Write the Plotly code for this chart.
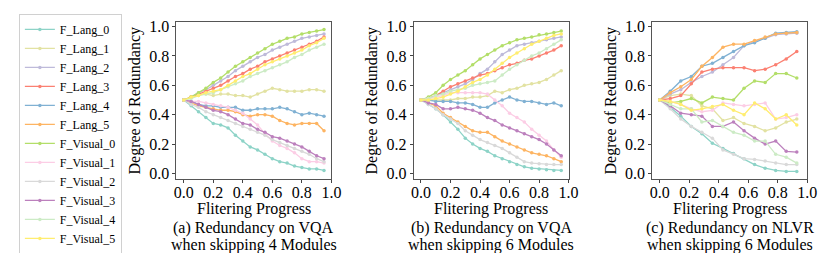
import plotly.graph_objects as go

W, H = 830, 253

series_names = ["F_Lang_0", "F_Lang_1", "F_Lang_2", "F_Lang_3", "F_Lang_4", "F_Lang_5",
                "F_Visual_0", "F_Visual_1", "F_Visual_2", "F_Visual_3", "F_Visual_4", "F_Visual_5"]
colors = ["#8dd3c7", "#e2e2a2", "#bebada", "#fb8072", "#80b1d3", "#fdb462",
          "#b3de69", "#fccde5", "#d9d9d9", "#bc80bd", "#ccebc5", "#ffed6f"]

x_ab = [i * 0.05 for i in range(20)]
x_c = [i / 14 for i in range(14)]

# (a) VQA, skipping 4 modules
a_lang_0 = [0.50, 0.46, 0.42, 0.38, 0.34, 0.33, 0.31, 0.26, 0.22, 0.18, 0.16, 0.13, 0.10, 0.08, 0.07, 0.05, 0.04, 0.03, 0.03, 0.02]
a_lang_1 = [0.50, 0.52, 0.54, 0.54, 0.53, 0.54, 0.54, 0.53, 0.53, 0.52, 0.54, 0.56, 0.58, 0.57, 0.56, 0.56, 0.56, 0.57, 0.57, 0.56]
a_lang_2 = [0.50, 0.52, 0.55, 0.57, 0.60, 0.63, 0.66, 0.70, 0.73, 0.76, 0.79, 0.81, 0.84, 0.86, 0.88, 0.90, 0.92, 0.93, 0.94, 0.95]
a_lang_3 = [0.50, 0.52, 0.54, 0.56, 0.58, 0.60, 0.63, 0.66, 0.68, 0.71, 0.73, 0.76, 0.78, 0.80, 0.82, 0.84, 0.86, 0.88, 0.90, 0.93]
a_lang_4 = [0.50, 0.49, 0.47, 0.46, 0.46, 0.45, 0.45, 0.45, 0.43, 0.43, 0.44, 0.44, 0.44, 0.45, 0.44, 0.42, 0.40, 0.41, 0.40, 0.39]
a_lang_5 = [0.50, 0.48, 0.46, 0.45, 0.44, 0.43, 0.43, 0.42, 0.40, 0.39, 0.40, 0.40, 0.39, 0.36, 0.34, 0.33, 0.34, 0.34, 0.34, 0.29]
a_vis_0 = [0.50, 0.52, 0.55, 0.58, 0.62, 0.65, 0.69, 0.73, 0.76, 0.79, 0.82, 0.85, 0.88, 0.90, 0.92, 0.93, 0.95, 0.96, 0.97, 0.98]
a_vis_1 = [0.50, 0.49, 0.49, 0.48, 0.47, 0.46, 0.45, 0.43, 0.41, 0.37, 0.33, 0.27, 0.22, 0.19, 0.17, 0.14, 0.10, 0.08, 0.08, 0.07]
a_vis_2 = [0.50, 0.47, 0.45, 0.42, 0.40, 0.38, 0.36, 0.34, 0.32, 0.30, 0.28, 0.26, 0.23, 0.21, 0.19, 0.17, 0.15, 0.13, 0.10, 0.08]
a_vis_3 = [0.50, 0.49, 0.47, 0.45, 0.43, 0.42, 0.40, 0.37, 0.34, 0.33, 0.30, 0.28, 0.25, 0.24, 0.22, 0.20, 0.18, 0.15, 0.12, 0.10]
a_vis_4 = [0.50, 0.51, 0.53, 0.54, 0.55, 0.57, 0.59, 0.61, 0.63, 0.66, 0.68, 0.70, 0.72, 0.74, 0.76, 0.79, 0.81, 0.84, 0.86, 0.88]
a_vis_5 = [0.50, 0.52, 0.53, 0.55, 0.56, 0.57, 0.60, 0.63, 0.66, 0.68, 0.71, 0.74, 0.76, 0.78, 0.80, 0.82, 0.84, 0.87, 0.89, 0.92]

# (b) VQA, skipping 6 modules
b_lang_0 = [0.50, 0.47, 0.44, 0.40, 0.35, 0.30, 0.24, 0.20, 0.17, 0.15, 0.12, 0.10, 0.08, 0.06, 0.045, 0.035, 0.03, 0.025, 0.02, 0.02]
b_lang_1 = [0.50, 0.50, 0.50, 0.50, 0.50, 0.51, 0.51, 0.52, 0.52, 0.53, 0.56, 0.55, 0.57, 0.58, 0.60, 0.61, 0.62, 0.64, 0.67, 0.70]
b_lang_2 = [0.50, 0.51, 0.53, 0.55, 0.57, 0.59, 0.61, 0.64, 0.68, 0.71, 0.76, 0.81, 0.84, 0.87, 0.88, 0.89, 0.90, 0.91, 0.92, 0.93]
b_lang_3 = [0.50, 0.51, 0.53, 0.56, 0.59, 0.61, 0.63, 0.65, 0.67, 0.68, 0.70, 0.72, 0.74, 0.75, 0.77, 0.78, 0.80, 0.82, 0.84, 0.87]
b_lang_4 = [0.50, 0.50, 0.49, 0.49, 0.49, 0.48, 0.48, 0.47, 0.45, 0.45, 0.48, 0.50, 0.52, 0.50, 0.49, 0.49, 0.48, 0.47, 0.48, 0.46]
b_lang_5 = [0.50, 0.48, 0.46, 0.41, 0.38, 0.35, 0.32, 0.29, 0.28, 0.28, 0.25, 0.22, 0.20, 0.18, 0.16, 0.14, 0.13, 0.12, 0.10, 0.08]
b_vis_0 = [0.50, 0.52, 0.55, 0.60, 0.64, 0.67, 0.70, 0.74, 0.78, 0.81, 0.84, 0.87, 0.89, 0.91, 0.92, 0.93, 0.945, 0.95, 0.96, 0.97]
b_vis_1 = [0.50, 0.51, 0.52, 0.53, 0.55, 0.55, 0.55, 0.55, 0.55, 0.54, 0.50, 0.46, 0.41, 0.38, 0.35, 0.30, 0.26, 0.22, 0.16, 0.11]
b_vis_2 = [0.50, 0.47, 0.44, 0.40, 0.37, 0.34, 0.29, 0.26, 0.23, 0.21, 0.19, 0.17, 0.14, 0.11, 0.08, 0.07, 0.065, 0.06, 0.06, 0.06]
b_vis_3 = [0.50, 0.48, 0.47, 0.44, 0.44, 0.45, 0.44, 0.43, 0.41, 0.38, 0.36, 0.33, 0.31, 0.29, 0.27, 0.25, 0.23, 0.20, 0.16, 0.12]
b_vis_4 = [0.50, 0.51, 0.53, 0.54, 0.56, 0.57, 0.58, 0.60, 0.61, 0.62, 0.63, 0.67, 0.71, 0.74, 0.77, 0.80, 0.82, 0.85, 0.88, 0.91]
b_vis_5 = [0.50, 0.50, 0.51, 0.52, 0.54, 0.56, 0.59, 0.62, 0.64, 0.67, 0.71, 0.75, 0.79, 0.82, 0.85, 0.88, 0.90, 0.92, 0.94, 0.95]

# (c) NLVR, skipping 6 modules
c_lang_0 = [0.50, 0.45, 0.39, 0.32, 0.27, 0.205, 0.17, 0.135, 0.10, 0.06, 0.035, 0.02, 0.013, 0.013]
c_lang_1 = [0.50, 0.53, 0.54, 0.53, 0.46, 0.44, 0.36, 0.38, 0.34, 0.32, 0.29, 0.31, 0.35, 0.37]
c_lang_2 = [0.50, 0.54, 0.57, 0.62, 0.66, 0.69, 0.74, 0.79, 0.87, 0.90, 0.92, 0.945, 0.95, 0.955]
c_lang_3 = [0.50, 0.51, 0.53, 0.61, 0.69, 0.71, 0.72, 0.72, 0.72, 0.70, 0.71, 0.74, 0.78, 0.83]
c_lang_4 = [0.50, 0.56, 0.63, 0.66, 0.73, 0.75, 0.79, 0.83, 0.87, 0.89, 0.92, 0.955, 0.96, 0.965]
c_lang_5 = [0.50, 0.55, 0.59, 0.64, 0.73, 0.79, 0.86, 0.88, 0.88, 0.905, 0.93, 0.95, 0.955, 0.96]
c_vis_0 = [0.50, 0.48, 0.49, 0.51, 0.48, 0.52, 0.51, 0.50, 0.58, 0.63, 0.62, 0.68, 0.68, 0.65]
c_vis_1 = [0.50, 0.49, 0.47, 0.44, 0.42, 0.43, 0.48, 0.47, 0.46, 0.47, 0.48, 0.37, 0.38, 0.40]
c_vis_2 = [0.50, 0.44, 0.37, 0.32, 0.28, 0.24, 0.16, 0.13, 0.10, 0.095, 0.085, 0.07, 0.06, 0.06]
c_vis_3 = [0.50, 0.46, 0.41, 0.40, 0.39, 0.32, 0.32, 0.35, 0.29, 0.24, 0.20, 0.22, 0.15, 0.145]
c_vis_4 = [0.50, 0.47, 0.44, 0.44, 0.35, 0.36, 0.32, 0.28, 0.26, 0.22, 0.22, 0.13, 0.11, 0.07]
c_vis_5 = [0.50, 0.49, 0.47, 0.43, 0.44, 0.455, 0.47, 0.43, 0.40, 0.48, 0.44, 0.37, 0.40, 0.33]

panel_a = [a_lang_0, a_lang_1, a_lang_2, a_lang_3, a_lang_4, a_lang_5, a_vis_0, a_vis_1, a_vis_2, a_vis_3, a_vis_4, a_vis_5]
panel_b = [b_lang_0, b_lang_1, b_lang_2, b_lang_3, b_lang_4, b_lang_5, b_vis_0, b_vis_1, b_vis_2, b_vis_3, b_vis_4, b_vis_5]
panel_c = [c_lang_0, c_lang_1, c_lang_2, c_lang_3, c_lang_4, c_lang_5, c_vis_0, c_vis_1, c_vis_2, c_vis_3, c_vis_4, c_vis_5]

caption_line1 = ["(a) Redundancy on VQA", "(b) Redundancy on VQA", "(c) Redundancy on NLVR"]
caption_line2 = ["when skipping 4 Modules", "when skipping 6 Modules", "when skipping 6 Modules"]
x_title = "Flitering Progress"
y_title = "Degree of Redundancy"
tick_vals = [0.0, 0.2, 0.4, 0.6, 0.8, 1.0]
tick_text = ["0.0", "0.2", "0.4", "0.6", "0.8", "1.0"]

FONT = "Liberation Serif, Times New Roman, serif"
FS = 16
x_domains_px = [(168, 325.5), (409, 566.5), (651.5, 809)]
y_domain_px = (10.5, 172)

fig = go.Figure()
panels = [(x_ab, panel_a), (x_ab, panel_b), (x_c, panel_c)]
for p, (xs, data) in enumerate(panels):
    sfx = "" if p == 0 else str(p + 1)
    for k, ys in enumerate(data):
        fig.add_trace(go.Scatter(
            x=xs, y=ys, mode="lines+markers", name=series_names[k],
            line=dict(color=colors[k], width=1.3),
            marker=dict(color=colors[k], size=3.5, symbol="circle"),
            showlegend=(p == 0), legendgroup=series_names[k],
            xaxis="x" + sfx, yaxis="y" + sfx))

layout = dict(
    width=W, height=H,
    margin=dict(l=0, r=0, t=0, b=0),
    paper_bgcolor="white", plot_bgcolor="white",
    font=dict(family=FONT, size=FS, color="black"),
    legend=dict(x=8 / W, y=1 - 2 / H, xanchor="left", yanchor="top",
                bgcolor="white", bordercolor="#d0d0d0", borderwidth=1,
                font=dict(family=FONT, size=12, color="black"),
                tracegroupgap=0, itemwidth=30),
    annotations=[],
)
ydom = [1 - y_domain_px[1] / H, 1 - y_domain_px[0] / H]
for p in range(3):
    sfx = "" if p == 0 else str(p + 1)
    xd = [x_domains_px[p][0] / W, x_domains_px[p][1] / W]
    xc = (xd[0] + xd[1]) / 2
    layout["xaxis" + sfx] = dict(
        domain=xd, range=[-0.05, 1.0], anchor="y" + sfx,
        tickvals=tick_vals, ticktext=tick_text, ticks="outside", ticklen=3,
        tickcolor="#444", showline=True, linecolor="#555", linewidth=1, mirror=True,
        showgrid=False, zeroline=False, tickfont=dict(size=FS),
        ticklabelstandoff=-4)
    layout["yaxis" + sfx] = dict(
        domain=ydom, range=[-0.04, 1.03], anchor="x" + sfx,
        tickvals=tick_vals, ticktext=tick_text, ticks="outside", ticklen=3,
        tickcolor="#444", showline=True, linecolor="#555", linewidth=1, mirror=True,
        showgrid=False, zeroline=False, tickfont=dict(size=FS),
        title=dict(text=y_title, font=dict(size=FS), standoff=4))
    for text, ypx in [(x_title, 203), (caption_line1[p], 222), (caption_line2[p], 240)]:
        layout["annotations"].append(dict(
            x=xc, y=1 - ypx / H, xref="paper", yref="paper",
            text=text, showarrow=False, xanchor="center", yanchor="middle",
            font=dict(family=FONT, size=FS, color="black")))

fig.update_layout(**layout)
fig.write_html("out.html")
